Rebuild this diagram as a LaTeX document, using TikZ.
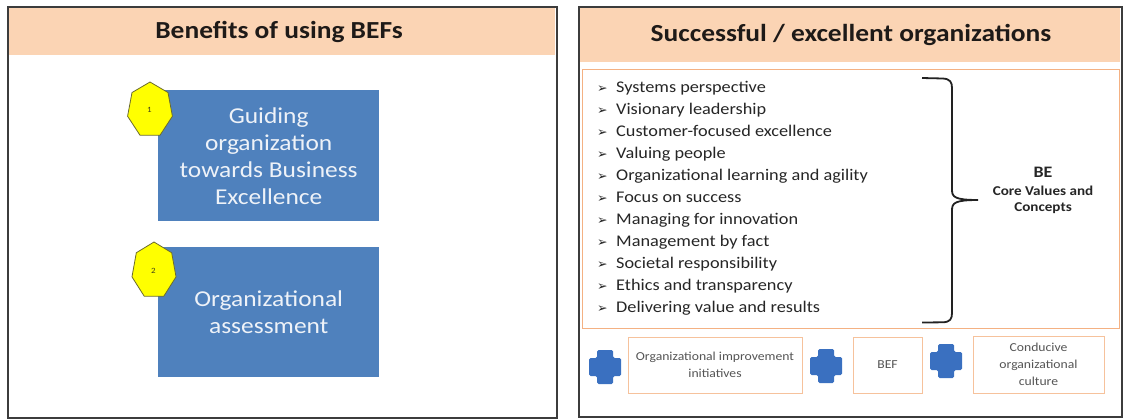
\documentclass[tikz,border=0pt]{standalone}
\usepackage{fontspec}
\setmainfont{Carlito}[FakeStretch=1.12]
\newfontfamily\dejavu{DejaVu Sans}
\usetikzlibrary{calc}
\definecolor{hdr}{HTML}{FBD4B4}
\definecolor{panelc}{HTML}{3C3C3C}
\definecolor{boxblue}{HTML}{4F81BD}
\definecolor{boxtext}{HTML}{EEF2F8}
\definecolor{heptc}{HTML}{6B6B2E}
\definecolor{heptfill}{HTML}{FFFF00}
\definecolor{lborder}{HTML}{F4B183}
\definecolor{sborder}{HTML}{F6C29C}
\definecolor{crossc}{HTML}{3A70C0}
\definecolor{listtext}{HTML}{262626}
\definecolor{smalltext}{HTML}{555555}
\definecolor{titletext}{HTML}{1E1A18}
\definecolor{bracec}{HTML}{222222}
\tikzset{
  panel/.style={draw=panelc, line width=1.6pt, inner sep=0pt, anchor=north west},
  header/.style={fill=hdr, draw=none, inner sep=0pt, anchor=north west},
  title/.style={font=\bfseries\fontsize{24.5}{28}\selectfont, text=titletext, anchor=base, inner sep=0pt},
  bluebox/.style={fill=boxblue, draw=none, text=boxtext, align=center, inner sep=0pt, anchor=north west,
    font=\fontsize{22.7}{27}\selectfont},
  hept/.style={fill=heptfill, draw=heptc, line width=0.8pt},
  heptnum/.style={font=\fontsize{8}{9}\selectfont, text=heptc!60!black, inner sep=0pt},
  listbox/.style={draw=lborder, line width=1.3pt, inner sep=0pt, anchor=north west},
  item/.style={font=\fontsize{16.3}{20}\selectfont, text=listtext, anchor=base west, inner sep=0pt},
  bul/.style={font=\dejavu\fontsize{12.5}{12.5}\selectfont, text=listtext, anchor=base west, inner sep=0pt},
  brace/.style={draw=bracec, line width=1.8pt},
  belabel/.style={font=\bfseries\fontsize{13.5}{16}\selectfont, text=listtext, anchor=base, inner sep=0pt},
  smallbox/.style={draw=sborder, line width=1pt, inner sep=0pt, align=center, text=smalltext,
    font=\fontsize{12.2}{17}\selectfont},
  plus/.pic={\fill[crossc, rounded corners=1.5pt] (-8,-17) -- (8,-17) -- (8,-9) -- (16,-9) -- (16,9) -- (8,9)
    -- (8,17) -- (-8,17) -- (-8,9) -- (-16,9) -- (-16,-9) -- (-8,-9) -- cycle;}
}
\begin{document}
\begin{tikzpicture}[x=1pt, y=-1pt]
\useasboundingbox (0,0) rectangle (1124,418);
\fill[white] (0,0) rectangle (1124,418);

% ---------- left panel ----------
\node[header, minimum width=547pt, minimum height=47.5pt] (h1) at (8,7) {};
\node[title] (t1) at (279,38.7) {Benefits of using BEFs};
\node[panel, minimum width=549pt, minimum height=411pt] (p1) at (7,6) {};

\node[bluebox, minimum width=221pt, minimum height=131pt] (b1) at (158,90)
  {Guiding\\organization\\towards Business\\Excellence};
\node[bluebox, minimum width=221pt, minimum height=130pt] (b2) at (158,247)
  {Organizational\\assessment};

\draw[hept, shift={(150,110)}] (0,-28) \foreach \k in {1,...,6}{ -- ({23*sin(\k*360/7)},{-28*cos(\k*360/7)}) } -- cycle;
\node[heptnum] (n1) at (149.5,110) {1};
\draw[hept, shift={(154,270.5)}] (0,-28.5) \foreach \k in {1,...,6}{ -- ({22.6*sin(\k*360/7)},{-28.5*cos(\k*360/7)}) } -- cycle;
\node[heptnum] (n2) at (153.5,270.5) {2};

% ---------- right panel ----------
\node[header, minimum width=541pt, minimum height=55pt] (h2) at (579,7) {};
\node[title] (t2) at (851,41) {Successful / excellent organizations};
\node[panel, minimum width=543pt, minimum height=410pt] (p2) at (578,6) {};

\node[listbox, minimum width=537pt, minimum height=259pt] (lb) at (581.5,69) {};

\foreach \t [count=\k from 0] in {Systems perspective, Visionary leadership, Customer-focused excellence,
  Valuing people, Organizational learning and agility, Focus on success, Managing for innovation,
  Management by fact, Societal responsibility, Ethics and transparency, Delivering value and results}{
  \node[bul] (bu\k) at (597,{92+22*\k}) {➢};
  \node[item] (it\k) at (616,{92+22*\k}) {\t};
}

\coordinate (brtop) at (922,78);
\coordinate (brtip) at (978,200);
\coordinate (brbot) at (922,322.5);
\draw[brace] (brtop) -- (943,78.5) .. controls (950,79) and (952,82) .. (952,88) -- (952,190)
  .. controls (952,197) and (955,200) .. (brtip)
  .. controls (955,200) and (952,203) .. (952,210) -- (952,313)
  .. controls (952,319) and (950,322) .. (943,322.3) -- (brbot);

\node[belabel, font=\bfseries\fontsize{16}{18}\selectfont] (be1) at (1043,177) {BE};
\node[belabel] (be2) at (1043,195) {Core Values and};
\node[belabel] (be3) at (1043,211.5) {Concepts};

\pic (c1) at (605,367) {plus};
\node[smallbox, minimum width=174pt, minimum height=56pt] (oa) at (715,365) {Organizational improvement\\initiatives};
\pic (c2) at (826,366) {plus};
\node[smallbox, minimum width=69pt, minimum height=56pt] (ob) at (887.5,365) {BEF};
\pic (c3) at (946,361) {plus};
\node[smallbox, minimum width=131pt, minimum height=57pt] (oc) at (1038.5,364.5) {Conducive\\organizational\\culture};
\end{tikzpicture}
\end{document}
